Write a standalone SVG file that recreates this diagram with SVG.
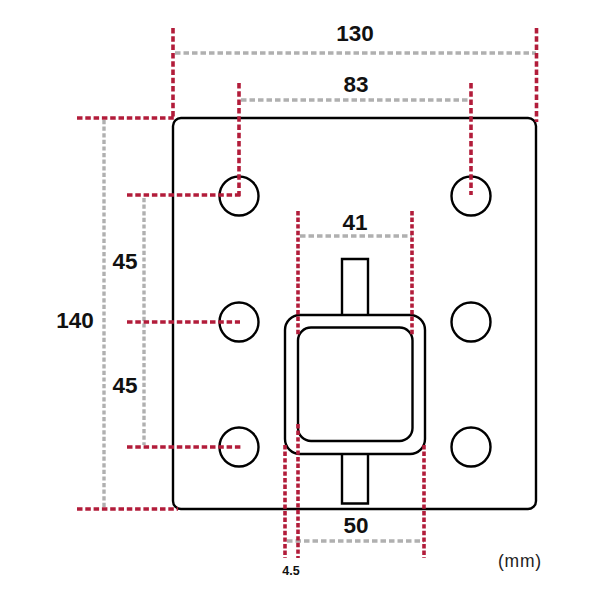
<svg xmlns="http://www.w3.org/2000/svg" width="600" height="600" viewBox="0 0 600 600">
<style>
.o{fill:none;stroke:#000;stroke-width:2.4}
.g{fill:none;stroke:#b0b0b0;stroke-width:3.4;stroke-dasharray:5.5 3}
.gv{fill:none;stroke:#b0b0b0;stroke-width:3.4;stroke-dasharray:4.2 2.4}
.r{fill:none;stroke:#b21c3a;stroke-width:3.6;stroke-dasharray:5.5 2.8}
.rv{fill:none;stroke:#b21c3a;stroke-width:3.6;stroke-dasharray:4.4 2.2}
.t{font-family:"Liberation Sans",Arial,sans-serif;font-weight:bold;font-size:22.5px;fill:#111;text-anchor:middle}
</style>
<rect width="600" height="600" fill="#fff"/>
<g id="plate"><rect class="o" x="173" y="118" width="363" height="391" rx="8"/></g>
<g id="holes">
<circle class="o" cx="239" cy="196" r="19.5"/>
<circle class="o" cx="471" cy="196" r="19.5"/>
<circle class="o" cx="239" cy="322" r="19.5"/>
<circle class="o" cx="471" cy="322" r="19.5"/>
<circle class="o" cx="239" cy="447" r="19.5"/>
<circle class="o" cx="471" cy="447" r="19.5"/>
</g>
<g id="tube">
<path class="o" d="M342 315V259H368V315M342 454V503.500H368V454"/>
<rect class="o" x="285" y="315" width="140" height="139" rx="15"/>
<rect class="o" x="298" y="327.500" width="114.500" height="113.500" rx="13"/>
</g>
<g id="connectors">
<path class="g" d="M175 53H536M241 100H469M300 236H412M287 541H424"/>
<path class="gv" d="M104 120V508M144 198V445"/>
<path class="r" d="M173 28V118M536.500 28V122M239 83V196M471 83V195M77 118H175M127 195H241M127 322H240M127 447H242M77 509H178"/>
<path class="rv" d="M298 211V336M412 211V336M285 445V558M298 424V558M424 445V558"/>
</g>
<g id="labels">
<text class="t" x="355" y="41">130</text>
<text class="t" x="356" y="92">83</text>
<text class="t" x="355" y="230">41</text>
<text class="t" x="125" y="269">45</text>
<text class="t" x="125" y="393">45</text>
<text class="t" x="75" y="328">140</text>
<text class="t" x="356" y="533">50</text>
<text class="t" x="291" y="575" style="font-size:12.500px">4.5</text>
<text x="520" y="567" style="font-family:'Liberation Sans',Arial,sans-serif;font-size:17.500px;letter-spacing:.8px;fill:#222;text-anchor:middle">(mm)</text>
</g>
</svg>
